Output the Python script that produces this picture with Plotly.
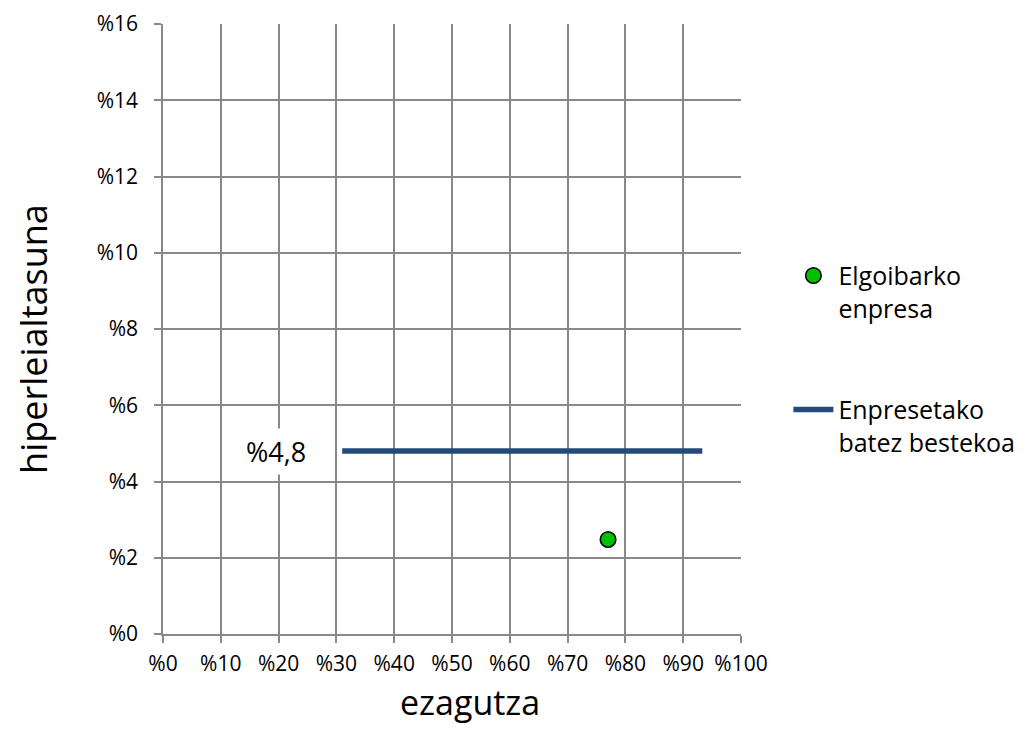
import plotly.graph_objects as go

# Data
company_name = "Elgoibarko<br>enpresa"
company_x = [77]
company_y = [2.48]
avg_name = "Enpresetako<br>batez bestekoa"
avg_x = [31, 93.3]
avg_y = [4.8, 4.8]
avg_label = "%4,8"
avg_label_x = 19.5
x_ticks = [0, 10, 20, 30, 40, 50, 60, 70, 80, 90, 100]
x_ticklabels = ["%" + str(v) for v in x_ticks]
y_ticks = [0, 2, 4, 6, 8, 10, 12, 14, 16]
y_ticklabels = ["%" + str(v) for v in y_ticks]
x_title = "ezagutza"
y_title = "hiperleialtasuna"

FONT = "Open Sans, Lato, sans-serif"
GRID = "#898989"

fig = go.Figure()
fig.add_trace(go.Scatter(
    x=company_x, y=company_y, mode="markers", name=company_name,
    legendgroup="a",
    marker=dict(color="#00c000", size=15.5, line=dict(color="black", width=1.6)),
))
fig.add_trace(go.Scatter(
    x=avg_x, y=avg_y, mode="lines", name=avg_name,
    legendgroup="b",
    line=dict(color="#244a7c", width=5.5),
))
fig.add_annotation(
    x=avg_label_x, y=avg_y[0], text=avg_label, showarrow=False,
    font=dict(size=27, color="black", family=FONT),
    bgcolor="white", borderpad=4,
)
fig.add_annotation(
    xref="paper", yref="paper", x=0.531, y=-0.112, yanchor="middle",
    text=x_title, showarrow=False, font=dict(size=34, family=FONT),
    borderpad=0,
)
fig.add_annotation(
    xref="paper", yref="paper", x=-0.224, y=0.483, xanchor="center",
    text=y_title, showarrow=False, textangle=-90, font=dict(size=36, family=FONT),
    borderpad=0,
)

fig.update_layout(
    width=1020, height=731,
    margin=dict(l=155, r=287, t=16, b=105, autoexpand=False),
    paper_bgcolor="white", plot_bgcolor="white",
    font=dict(family=FONT, color="black", size=22),
    legend=dict(
        x=1.082, y=0.625, xanchor="left", yanchor="top",
        font=dict(size=25, family=FONT),
        tracegroupgap=66, itemwidth=40, valign="top",
        bgcolor="rgba(0,0,0,0)",
    ),
    showlegend=True,
)
fig.update_xaxes(
    range=[0, 100], tickvals=x_ticks, ticktext=x_ticklabels,
    showgrid=True, gridcolor=GRID, gridwidth=1.5,
    showline=True, linecolor=GRID, linewidth=1.5,
    ticks="outside", ticklen=7, tickcolor=GRID, tickwidth=1.5,
    zeroline=False, automargin=False, ticklabelstandoff=3,
    tickfont=dict(size=21),
)
fig.update_yaxes(
    range=[0, 16], tickvals=y_ticks, ticktext=y_ticklabels,
    showgrid=True, gridcolor=GRID, gridwidth=1.5,
    showline=True, linecolor=GRID, linewidth=1.5,
    ticks="outside", ticklen=7, tickcolor=GRID, tickwidth=1.5,
    zeroline=False, automargin=False, ticklabelstandoff=12,
    tickfont=dict(size=21),
)

fig.write_html("out.html")
